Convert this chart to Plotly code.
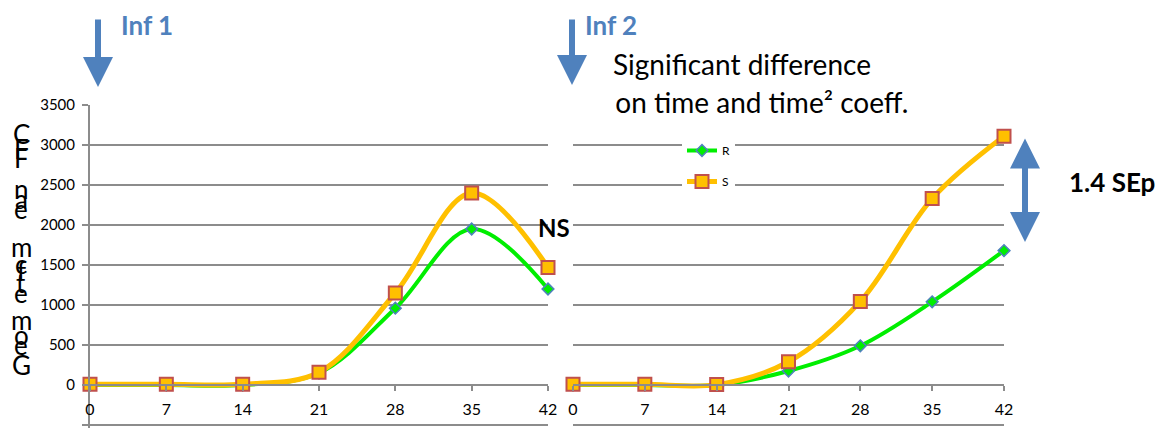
import plotly.graph_objects as go

W, H = 1168, 430

days = [0, 7, 14, 21, 28, 35, 42]
inf1_R = [0, 0, 0, 150, 960, 1950, 1200]
inf1_S = [10, 10, 10, 160, 1150, 2400, 1470]
inf2_R = [0, 0, 0, 175, 490, 1040, 1680]
inf2_S = [10, 10, 5, 290, 1045, 2330, 3110]
y_ticks = [-500, 0, 500, 1000, 1500, 2000, 2500, 3000, 3500]

# garbled stacked y-axis title glyphs (top to bottom) and their pixel centres
title_chars = ["C", "F", "F", "n", "a", "e", "m", "c", "f", "t", "e", "m", "o", "e", "G"]
title_pos = [134, 149, 158, 189, 199, 209, 247, 264, 271, 283, 293, 320, 335, 345, 365]

GREEN = "#00EE00"
ORANGE = "#FFC000"
BLUE = "#4F81BD"
RED = "#C0504D"
GRID = "#8C8C8C"
FONT = "Lato"


def px(x):
    return x / W


def py(y):
    return 1 - y / H


fig = go.Figure()


def add_pair(xa, ya, r, s, show):
    fig.add_trace(go.Scatter(
        x=days, y=r, xaxis=xa, yaxis=ya, name="R", legendgroup="R", showlegend=show,
        mode="lines+markers", line=dict(color=GREEN, width=4, shape="spline", smoothing=1),
        marker=dict(symbol="diamond", size=9, color=GREEN, line=dict(color=BLUE, width=1.5)),
        cliponaxis=False))
    fig.add_trace(go.Scatter(
        x=days, y=s, xaxis=xa, yaxis=ya, name="S", legendgroup="S", showlegend=show,
        mode="lines+markers", line=dict(color=ORANGE, width=5, shape="spline", smoothing=1),
        marker=dict(symbol="square", size=13, color=ORANGE, line=dict(color=RED, width=2)),
        cliponaxis=False))


add_pair("x", "y", inf1_R, inf1_S, False)
add_pair("x2", "y2", inf2_R, inf2_S, True)

y0_paper = py(385)
# range extended below -500 so that the -500 gridline is drawn inside the plot
ydom = [py(428.2), py(105)]
yrange = [-540, 3500]

xcommon = dict(range=[0, 42], tickvals=days, showgrid=False, zeroline=False,
               showline=True, linecolor=GRID, linewidth=2, ticks="outside", ticklen=5,
               tickcolor=GRID, tickwidth=2, ticklabelstandoff=5,
               tickfont=dict(family=FONT, size=16, color="#000"), anchor="free",
               position=y0_paper, automargin=False)

fig.update_layout(
    width=W, height=H, margin=dict(l=0, r=0, t=0, b=0, pad=0, autoexpand=False),
    paper_bgcolor="white", plot_bgcolor="white",
    xaxis=dict(domain=[px(90), px(548)], **xcommon),
    xaxis2=dict(domain=[px(573), px(1004)], **xcommon),
    yaxis=dict(domain=ydom, range=yrange, tickvals=y_ticks, showgrid=True,
               gridcolor=GRID, gridwidth=2, zeroline=False, showline=True, linecolor=GRID,
               linewidth=2, ticks="outside", ticklen=6, tickcolor=GRID, tickwidth=2,
               ticklabelstandoff=4, automargin=False,
               tickfont=dict(family=FONT, size=15, color="#000"), anchor="x"),
    yaxis2=dict(domain=ydom, matches="y", range=yrange, tickvals=y_ticks, showgrid=True,
                gridcolor=GRID, gridwidth=2, zeroline=False, showline=False,
                showticklabels=False, ticks="", anchor="x2", automargin=False),
    legend=dict(x=px(682), y=py(136), xanchor="left", yanchor="top", bgcolor="white",
                font=dict(family=FONT, size=12, color="#000"), tracegroupgap=12,
                itemwidth=30, traceorder="grouped"),
    showlegend=True,
)

ann = []
for ch, yy in zip(title_chars, title_pos):
    ann.append(dict(text=ch, x=px(21), y=py(yy), xref="paper", yref="paper",
                    xanchor="center", yanchor="middle", showarrow=False,
                    font=dict(family=FONT, size=26, color="#000")))

ann.append(dict(text="", x=px(98), y=py(87), xref="paper", yref="paper", showarrow=True,
                ax=0, ay=-69, arrowhead=2, arrowsize=1, arrowwidth=6, arrowcolor=BLUE))
ann.append(dict(text="", x=px(572), y=py(85), xref="paper", yref="paper", showarrow=True,
                ax=0, ay=-67, arrowhead=2, arrowsize=1, arrowwidth=6, arrowcolor=BLUE))
ann.append(dict(text="", x=px(1025), y=py(242), xref="paper", yref="paper", showarrow=True,
                ax=0, ay=-105, arrowhead=2, startarrowhead=2, arrowside="end+start",
                arrowsize=1, startarrowsize=1, arrowwidth=6, arrowcolor=BLUE))

ann.append(dict(text="<b>Inf 1</b>", x=px(119), y=py(25), xref="paper", yref="paper",
                xanchor="left", yanchor="middle", showarrow=False,
                font=dict(family=FONT, size=26, color=BLUE)))
ann.append(dict(text="<b>Inf 2</b>", x=px(583), y=py(25), xref="paper", yref="paper",
                xanchor="left", yanchor="middle", showarrow=False,
                font=dict(family=FONT, size=26, color=BLUE)))
ann.append(dict(text="Significant difference", x=px(611), y=py(64), xref="paper", yref="paper",
                xanchor="left", yanchor="middle", showarrow=False,
                font=dict(family=FONT, size=28, color="#000")))
ann.append(dict(text="&nbsp;&nbsp;on time and time² coeff.", x=px(599), y=py(102),
                xref="paper", yref="paper", xanchor="left", yanchor="middle",
                showarrow=False, width=338, align="left", bgcolor="white",
                font=dict(family=FONT, size=28, color="#000")))
ann.append(dict(text="<b>NS</b>", x=px(554), y=py(227), xref="paper", yref="paper",
                xanchor="center", yanchor="middle", showarrow=False,
                font=dict(family=FONT, size=24, color="#000")))
ann.append(dict(text="<b>1.4 SEp</b>", x=px(1112), y=py(182), xref="paper", yref="paper",
                xanchor="center", yanchor="middle", showarrow=False,
                font=dict(family=FONT, size=26, color="#000")))

fig.update_layout(annotations=ann)

fig.write_html("out.html", config={"displayModeBar": False},
               post_script="document.body.style.margin='0px';")
